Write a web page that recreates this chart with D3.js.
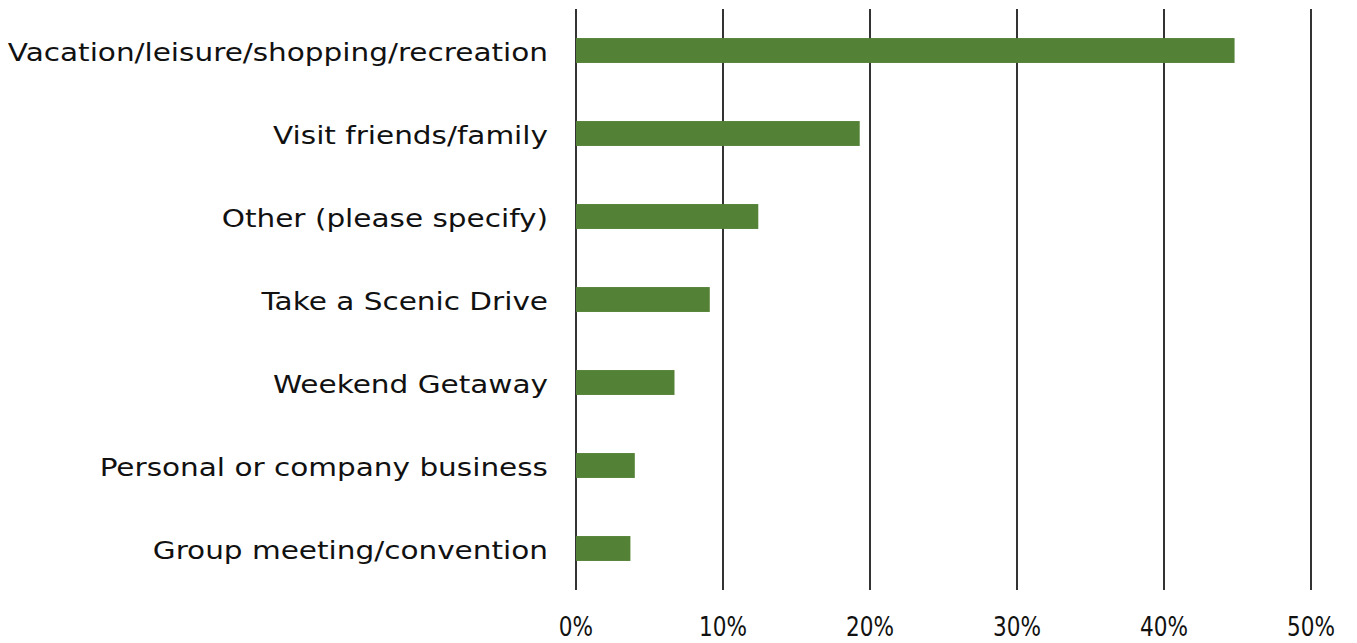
<!DOCTYPE html>
<html><head><meta charset="utf-8">
<script src="https://cdn.jsdelivr.net/npm/d3@7"></script>
<style>body{margin:0;background:#fff}</style>
</head><body>
<svg id="c" width="1357" height="643"></svg>
<script>
const categories = ["Vacation/leisure/shopping/recreation","Visit friends/family","Other (please specify)","Take a Scenic Drive","Weekend Getaway","Personal or company business","Group meeting/convention"];
const values = [0.448, 0.193, 0.124, 0.091, 0.067, 0.040, 0.037];
const tickValues = [0, 0.1, 0.2, 0.3, 0.4, 0.5];

const svg = d3.select("#c");
const x = d3.scaleLinear().domain([0, 0.5]).range([576, 1311]);
const y = d3.scaleBand().domain(categories).range([9, 590]).paddingInner(0.7).paddingOuter(0.35);

// gridlines
svg.append("g").selectAll("line").data(tickValues).join("line")
  .attr("x1", d => x(d)).attr("x2", d => x(d))
  .attr("y1", 9).attr("y2", 590)
  .attr("stroke", "#000").attr("stroke-width", 1.6);

// bars
svg.append("g").selectAll("rect").data(values).join("rect")
  .attr("x", x(0)).attr("y", (d, i) => y(categories[i]))
  .attr("width", d => x(d) - x(0)).attr("height", y.bandwidth())
  .attr("fill", "#538135");

// category labels
svg.append("g").selectAll("text").data(categories).join("text")
  .attr("transform", d => `translate(548,${y(d) + y.bandwidth() / 2 + 10}) scale(1.23,1)`)
  .attr("text-anchor", "end")
  .attr("font-family", "DejaVu Sans, sans-serif").attr("font-size", 24)
  .attr("fill", "#111")
  .text(d => d);

// tick labels
const fmt = d3.format(".0%");
svg.append("g").selectAll("text").data(tickValues).join("text")
  .attr("transform", d => `translate(${x(d)},636) scale(0.8,1)`)
  .attr("text-anchor", "middle")
  .attr("font-family", "DejaVu Sans, sans-serif").attr("font-size", 27)
  .attr("fill", "#111")
  .text(d => fmt(d));
</script>
</body></html>
